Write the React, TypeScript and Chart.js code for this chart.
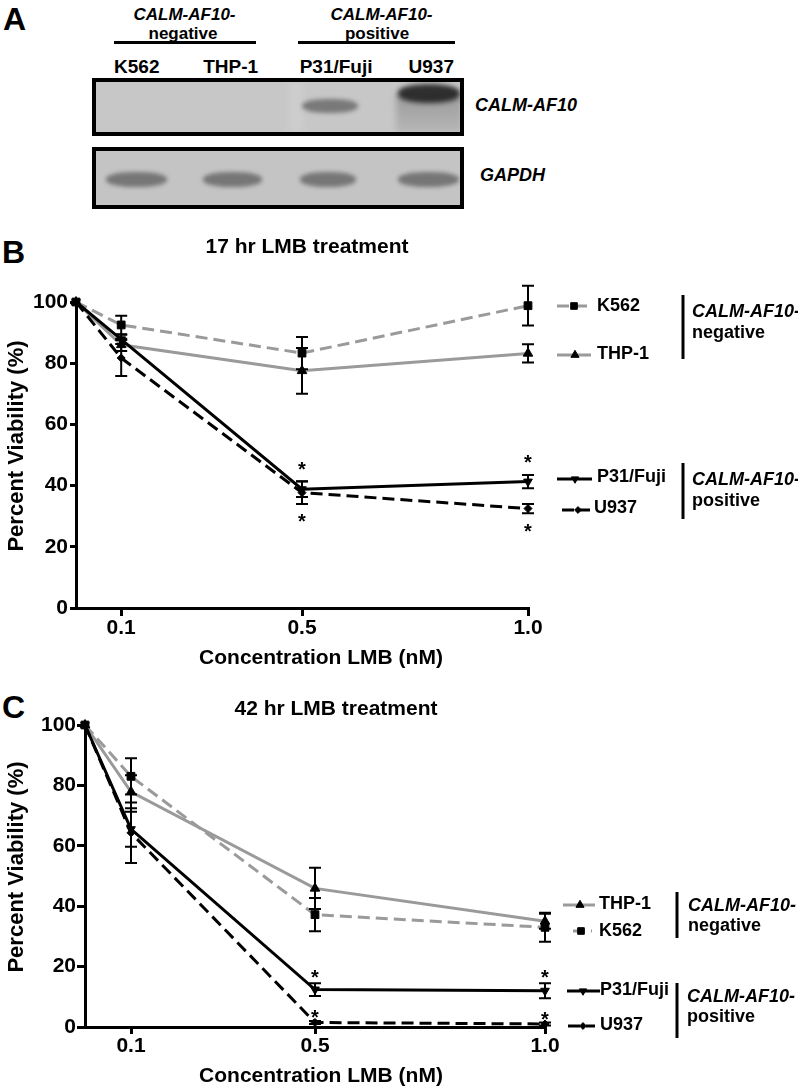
import React, { useEffect, useRef } from 'react';
import { Chart, registerables } from 'chart.js';
import { drawPoint } from 'chart.js/helpers';

Chart.register(...registerables);

const FONT = "'Liberation Sans', Arial, Helvetica, sans-serif";

// ---------- data ----------
const concentrations = [0, 0.1, 0.5, 1.0];
const xTickValues = [0.1, 0.5, 1.0];
const xTickLabels = ['0.1', '0.5', '1.0'];
const yTickStep = 20;
const cellLines = ['K562', 'THP-1', 'P31/Fuji', 'U937'];
const groupTitle = 'CALM-AF10-';
const groupNames = ['negative', 'positive'];
const gelLanes = ['K562', 'THP-1', 'P31/Fuji', 'U937'];
const gelTargets = ['CALM-AF10', 'GAPDH'];
const titleB = '17 hr LMB treatment';
const titleC = '42 hr LMB treatment';
const xTitle = 'Concentration LMB (nM)';
const yTitle = 'Percent Viability (%)';

// Panel B: 17 hr
const k562_17 = [100, 92.5, 83.3, 98.8];
const k562_17_sem = [0, 3, 5.3, 6.5];
const thp1_17 = [100, 86, 77.5, 83.2];
const thp1_17_sem = [0, 2, 7.5, 3];
const p31_17 = [100, 87.8, 38.8, 41.3];
const p31_17_sem = [0, 1.5, 2.5, 2.2];
const u937_17 = [100, 81.7, 37.7, 32.5];
const u937_17_sem = [0, 5.9, 3.7, 1.5];
const p31_17_sig = [false, false, true, true];
const u937_17_sig = [false, false, true, true];

// Panel C: 42 hr
const k562_42 = [100, 83, 37.2, 33];
const k562_42_sem = [0, 6, 5.5, 4.8];
const thp1_42 = [100, 77.9, 45.9, 35];
const thp1_42_sem = [0, 5.5, 6.8, 2.5];
const p31_42 = [100, 65.5, 12.4, 12];
const p31_42_sem = [0, 5.8, 2.1, 2.5];
const u937_42 = [100, 64.3, 1.5, 1];
const u937_42_sem = [0, 10, 0.5, 0.5];
const p31_42_sig = [false, false, true, true];
const u937_42_sig = [false, false, true, true];

// ---------- styles ----------
const seriesStyle: Record<string, any> = {
  'K562': { color: '#9a9a9a', dash: [12, 6], pointStyle: 'rect', radius: 5.5, rotation: 0, order: 3 },
  'THP-1': { color: '#9a9a9a', dash: [], pointStyle: 'triangle', radius: 5.5, rotation: 0, order: 2 },
  'P31/Fuji': { color: '#000000', dash: [], pointStyle: 'triangle', radius: 5, rotation: 180, order: 1 },
  'U937': { color: '#000000', dash: [12, 6], pointStyle: 'rectRot', radius: 4, rotation: 0, order: 0 },
};

function makeDataset(label: string, values: number[], sem: number[], sig?: boolean[], starSide?: string, starGap?: number) {
  const st = seriesStyle[label];
  return {
    label,
    data: concentrations.map((c, i) => ({ x: c, y: values[i] })),
    borderColor: st.color,
    borderWidth: 3,
    borderDash: st.dash,
    pointStyle: st.pointStyle,
    pointRadius: st.radius,
    pointRotation: st.rotation,
    pointBackgroundColor: '#000',
    pointBorderColor: '#000',
    pointBorderWidth: 1,
    fill: false,
    tension: 0,
    clip: false,
    order: st.order,
    sem,
    sig: sig || [],
    starSide: starSide || 'above',
    starGap: starGap || 12,
  };
}

// ---------- plugins ----------
const errorBarPlugin = {
  id: 'errorBars',
  afterDatasetsDraw(chart: any) {
    const { ctx } = chart;
    const xs = chart.scales.x;
    const ys = chart.scales.y;
    ctx.save();
    ctx.strokeStyle = '#000';
    ctx.fillStyle = '#000';
    ctx.lineWidth = 2;
    ctx.setLineDash([]);
    const cap = 6;
    chart.data.datasets.forEach((ds: any) => {
      (ds.sem || []).forEach((e: number, j: number) => {
        if (!e) return;
        const pt = ds.data[j];
        const x = xs.getPixelForValue(pt.x);
        const yT = ys.getPixelForValue(pt.y + e);
        const yB = ys.getPixelForValue(pt.y - e);
        ctx.beginPath();
        ctx.moveTo(x, yT); ctx.lineTo(x, yB);
        ctx.moveTo(x - cap, yT); ctx.lineTo(x + cap, yT);
        ctx.moveTo(x - cap, yB); ctx.lineTo(x + cap, yB);
        ctx.stroke();
      });
      (ds.sig || []).forEach((s: boolean, j: number) => {
        if (!s) return;
        const pt = ds.data[j];
        const e = (ds.sem && ds.sem[j]) || 0;
        const x = xs.getPixelForValue(pt.x);
        const yc = ds.starSide === 'below'
          ? ys.getPixelForValue(pt.y - e) + ds.starGap
          : ys.getPixelForValue(pt.y + e) - ds.starGap;
        ctx.font = `bold 20px ${FONT}`;
        ctx.textAlign = 'center';
        ctx.textBaseline = 'alphabetic';
        ctx.fillText('*', x, yc + 11.5);
      });
    });
    ctx.restore();
  },
};

const overlayPlugin = {
  id: 'overlay',
  afterDraw(chart: any, _args: any, opts: any) {
    const ctx = chart.ctx;
    ctx.save();
    ctx.fillStyle = '#000';
    (opts.texts || []).forEach((t: any) => {
      ctx.save();
      ctx.font = t.font;
      ctx.fillStyle = '#000';
      ctx.textAlign = t.align || 'center';
      ctx.textBaseline = 'alphabetic';
      ctx.translate(t.x, t.y);
      if (t.rotation) ctx.rotate(t.rotation);
      ctx.fillText(t.text, 0, 0);
      ctx.restore();
    });
    (opts.legend || []).forEach((it: any) => {
      const ds = chart.data.datasets.find((d: any) => d.label === it.label);
      if (!ds) return;
      ctx.save();
      ctx.strokeStyle = ds.borderColor;
      ctx.lineWidth = ds.borderWidth;
      ctx.setLineDash(ds.borderDash || []);
      ctx.beginPath();
      ctx.moveTo(it.x0, it.y);
      ctx.lineTo(it.x1, it.y);
      ctx.stroke();
      ctx.setLineDash([]);
      ctx.fillStyle = '#000';
      ctx.strokeStyle = '#000';
      ctx.lineWidth = 1;
      drawPoint(ctx, { pointStyle: ds.pointStyle, rotation: ds.pointRotation, radius: ds.pointRadius * 0.85, borderWidth: 1 } as any, it.mx, it.y);
      ctx.font = `bold 18px ${FONT}`;
      ctx.textAlign = 'left';
      ctx.textBaseline = 'middle';
      ctx.fillText(ds.label, it.tx, it.ty);
      ctx.restore();
    });
    (opts.groups || []).forEach((g: any) => {
      ctx.save();
      ctx.strokeStyle = '#000';
      ctx.lineWidth = 3;
      ctx.beginPath();
      ctx.moveTo(g.barX, g.y0);
      ctx.lineTo(g.barX, g.y1);
      ctx.stroke();
      ctx.fillStyle = '#000';
      ctx.textAlign = 'left';
      ctx.textBaseline = 'alphabetic';
      ctx.font = `italic bold 18px ${FONT}`;
      ctx.fillText(groupTitle, g.tx, g.b1);
      ctx.font = `bold 18px ${FONT}`;
      ctx.fillText(g.name, g.tx, g.b2);
      ctx.restore();
    });
    ctx.restore();
  },
};

function buildConfig(p: any) {
  const tickFont = { family: FONT, size: 21, weight: 'bold' as const };
  return {
    type: 'line' as const,
    data: { datasets: p.datasets },
    options: {
      responsive: false,
      animation: false as const,
      devicePixelRatio: 1,
      layout: { padding: { left: 0, right: p.padRight, top: p.padTop, bottom: 0 } },
      plugins: {
        legend: { display: false },
        tooltip: { enabled: false },
        title: { display: false },
        overlay: { texts: p.texts, legend: p.legend, groups: p.groups },
      },
      scales: {
        x: {
          type: 'linear' as const,
          min: 0,
          max: 1,
          afterBuildTicks: (s: any) => { s.ticks = xTickValues.map((v) => ({ value: v })); },
          afterFit: (s: any) => { s.height = p.xHeight; },
          ticks: {
            autoSkip: false,
            maxRotation: 0,
            padding: p.xTickPad,
            color: '#000',
            font: tickFont,
            callback: (v: any) => {
              const i = xTickValues.indexOf(Number(v));
              return i >= 0 ? xTickLabels[i] : '';
            },
          },
          grid: { display: true, drawOnChartArea: false, drawTicks: true, tickLength: p.xTickLen, tickWidth: 3, tickColor: '#000', color: '#000', lineWidth: 3 },
          border: { display: true, color: '#000', width: 3 },
          title: { display: false },
        },
        y: {
          min: 0,
          max: 100,
          afterFit: (s: any) => { s.width = p.yWidth; },
          ticks: { stepSize: yTickStep, padding: p.yTickPad, color: '#000', font: tickFont },
          grid: { display: true, drawOnChartArea: false, drawTicks: true, tickLength: p.yTickLen, tickWidth: 3, tickColor: '#000', color: '#000', lineWidth: 3 },
          border: { display: true, color: '#000', width: 3 },
          title: { display: false },
        },
      },
    },
    plugins: [errorBarPlugin, overlayPlugin],
  };
}

function panelB() {
  return buildConfig({
    datasets: [
      makeDataset('U937', u937_17, u937_17_sem, u937_17_sig, 'below', 13),
      makeDataset('P31/Fuji', p31_17, p31_17_sem, p31_17_sig, 'above', 17),
      makeDataset('THP-1', thp1_17, thp1_17_sem),
      makeDataset('K562', k562_17, k562_17_sem),
    ],
    padTop: 82, padRight: 270, xHeight: 62, yWidth: 76,
    xTickLen: 8, xTickPad: 0, yTickLen: 6, yTickPad: 2,
    texts: [
      { text: titleB, x: 307, y: 33, font: `bold 21px ${FONT}` },
      { text: xTitle, x: 321, y: 444, font: `bold 21px ${FONT}` },
      { text: yTitle, x: 23, y: 226, rotation: -Math.PI / 2, font: `bold 22px ${FONT}` },
    ],
    legend: [
      { label: cellLines[0], x0: 557, x1: 589, mx: 574, y: 86, tx: 597, ty: 86.5 },
      { label: cellLines[1], x0: 557, x1: 591, mx: 575, y: 135, tx: 597, ty: 134 },
      { label: cellLines[2], x0: 557, x1: 592, mx: 575, y: 259, tx: 597, ty: 257 },
      { label: cellLines[3], x0: 562, x1: 590, mx: 578, y: 290, tx: 594, ty: 288.5 },
    ],
    groups: [
      { barX: 683, y0: 75, y1: 139, tx: 692, b1: 97, b2: 118, name: groupNames[0] },
      { barX: 683, y0: 243, y1: 299, tx: 692, b1: 265, b2: 286, name: groupNames[1] },
    ],
  });
}

function panelC() {
  return buildConfig({
    datasets: [
      makeDataset('U937', u937_42, u937_42_sem, u937_42_sig, 'above', 8),
      makeDataset('P31/Fuji', p31_42, p31_42_sem, p31_42_sig, 'above', 11),
      makeDataset('THP-1', thp1_42, thp1_42_sem),
      makeDataset('K562', k562_42, k562_42_sem),
    ],
    padTop: 45, padRight: 253, xHeight: 62, yWidth: 85,
    xTickLen: 7, xTickPad: 0, yTickLen: 8, yTickPad: 1,
    texts: [
      { text: titleC, x: 336, y: 35, font: `bold 21px ${FONT}` },
      { text: xTitle, x: 321, y: 401.5, font: `bold 21px ${FONT}` },
      { text: yTitle, x: 23, y: 187, rotation: -Math.PI / 2, font: `bold 22px ${FONT}` },
    ],
    legend: [
      { label: cellLines[1], x0: 563, x1: 595, mx: 580, y: 225, tx: 599, ty: 224 },
      { label: cellLines[0], x0: 573, x1: 592, mx: 581, y: 251, tx: 599, ty: 251 },
      { label: cellLines[2], x0: 567, x1: 600, mx: 583, y: 311, tx: 600, ty: 310 },
      { label: cellLines[3], x0: 568, x1: 595, mx: 583, y: 346, tx: 600, ty: 345.5 },
    ],
    groups: [
      { barX: 677, y0: 212, y1: 258, tx: 688, b1: 231, b2: 251, name: groupNames[0] },
      { barX: 677, y0: 303, y1: 358, tx: 687, b1: 322, b2: 342, name: groupNames[1] },
    ],
  });
}

function ChartCanvas({ top, height, build }: { top: number; height: number; build: () => any }) {
  const ref = useRef<HTMLCanvasElement>(null);
  useEffect(() => {
    const chart = new Chart(ref.current as HTMLCanvasElement, build());
    return () => chart.destroy();
  }, []);
  return (
    <canvas
      ref={ref}
      width={798}
      height={height}
      style={{ position: 'absolute', left: 0, top, width: 798, height }}
    />
  );
}

function Label({ x, b, s, t, it = false, center = false }: any) {
  const style: any = {
    position: 'absolute',
    left: x,
    top: b - 0.8465 * s,
    fontFamily: FONT,
    fontSize: s,
    lineHeight: `${s}px`,
    fontWeight: 'bold',
    fontStyle: it ? 'italic' : 'normal',
    whiteSpace: 'nowrap',
    color: '#000',
  };
  if (center) style.transform = 'translateX(-50%)';
  return <div style={style}>{t}</div>;
}

function Band({ l, t, w, h, c, blur = 2 }: any) {
  return (
    <div
      style={{
        position: 'absolute', left: l, top: t, width: w, height: h,
        background: c, borderRadius: '45%', filter: `blur(${blur}px)`,
      }}
    />
  );
}

function Gel() {
  const laneCenters = [136.8, 230.7, 336.1, 431.3];
  return (
    <>
      <Label x={3} b={30} s={32} t="A" />
      <Label x={184.5} b={20} s={17} t={groupTitle} it center />
      <Label x={183} b={39} s={17} t={groupNames[0]} center />
      <Label x={381.5} b={20} s={17} t={groupTitle} it center />
      <Label x={377} b={39} s={17} t={groupNames[1]} center />
      <div style={{ position: 'absolute', left: 114, top: 41, width: 142, height: 3, background: '#000' }} />
      <div style={{ position: 'absolute', left: 298, top: 41, width: 157, height: 3, background: '#000' }} />
      {gelLanes.map((n, i) => (
        <Label key={n} x={laneCenters[i]} b={73.5} s={19} t={n} center />
      ))}
      <div style={{ position: 'absolute', left: 92, top: 78, width: 372, height: 58, border: '4px solid #000', boxSizing: 'border-box', background: '#c7c7c7', overflow: 'hidden' }}>
        <div style={{ position: 'absolute', left: 192, top: 0, width: 16, height: 50, background: '#cdcdcd', filter: 'blur(3px)' }} />
        <div style={{ position: 'absolute', left: 300, top: 12, width: 66, height: 40, background: 'linear-gradient(#9a9a9a, #b8b8b8)', filter: 'blur(3px)' }} />
        <Band l={206} t={17} w={56} h={14} c="rgba(95,95,95,0.75)" />
        <Band l={302} t={2} w={62} h={19} c="rgba(35,35,35,0.92)" blur={2.5} />
      </div>
      <div style={{ position: 'absolute', left: 92, top: 147, width: 372, height: 62, border: '4px solid #000', boxSizing: 'border-box', background: '#c4c4c4', overflow: 'hidden' }}>
        <Band l={10} t={21} w={61} h={15} c="rgba(85,85,85,0.7)" />
        <Band l={107} t={21} w={59} h={15} c="rgba(85,85,85,0.7)" />
        <Band l={204} t={21} w={56} h={15} c="rgba(85,85,85,0.7)" />
        <Band l={302} t={21} w={61} h={15} c="rgba(85,85,85,0.7)" />
      </div>
      <Label x={475} b={111} s={18} t={gelTargets[0]} it />
      <Label x={480} b={181} s={18} t={gelTargets[1]} it />
    </>
  );
}

export default function App() {
  return (
    <div style={{ position: 'absolute', left: 0, top: 0, width: 798, height: 1089, background: '#fff', overflow: 'hidden' }}>
      <Gel />
      <Label x={2} b={263} s={32} t="B" />
      <Label x={2} b={718} s={32} t="C" />
      <ChartCanvas top={220} height={450} build={panelB} />
      <ChartCanvas top={680} height={409} build={panelC} />
    </div>
  );
}
